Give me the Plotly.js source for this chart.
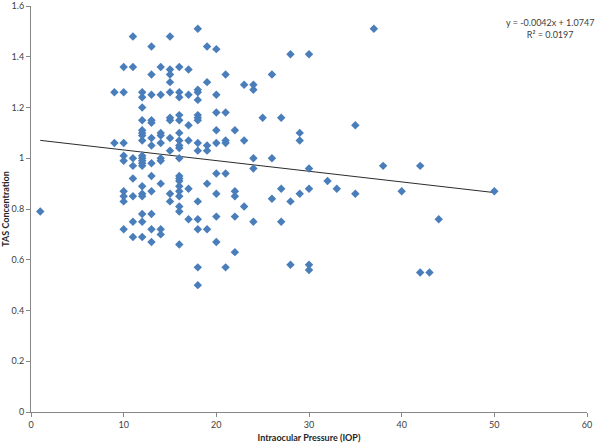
<!DOCTYPE html>
<html>
<head>
<meta charset="utf-8">
<script src="https://cdn.plot.ly/plotly-3.0.1.min.js"></script>
<style>
  html, body { margin: 0; padding: 0; background: #ffffff; }
  #chart { width: 600px; height: 443px; }
</style>
</head>
<body>
<div id="chart"></div>
<script>
// IOP value -> list of TAS concentration readings at that IOP
const iopValues = [1, 9, 10, 11, 12, 13, 14, 15, 16, 17, 18, 19, 20, 21, 22, 23, 24, 25, 26, 27, 28, 29, 30, 32, 33, 35, 37, 38, 40, 42, 43, 44, 50];
const tasByIop = [
  [0.79],
  [1.26, 1.06],
  [1.36, 1.26, 1.06, 1.01, 0.99, 0.87, 0.85, 0.83, 0.72],
  [1.48, 1.36, 1.00, 0.97, 0.92, 0.85, 0.75, 0.69],
  [1.26, 1.24, 1.20, 1.15, 1.11, 1.10, 1.09, 1.07, 1.01, 1.00, 0.99, 0.98, 0.97, 0.89, 0.86, 0.85, 0.78, 0.75, 0.69],
  [1.44, 1.33, 1.25, 1.15, 1.14, 1.08, 1.05, 0.98, 0.93, 0.87, 0.78, 0.72, 0.67],
  [1.36, 1.25, 1.10, 1.09, 1.06, 1.00, 0.99, 0.90, 0.72, 0.70],
  [1.48, 1.35, 1.33, 1.30, 1.26, 1.16, 1.15, 1.08, 1.03, 0.86, 0.83],
  [1.36, 1.26, 1.24, 1.17, 1.15, 1.10, 1.07, 1.05, 1.04, 1.00, 0.93, 0.92, 0.91, 0.89, 0.87, 0.85, 0.81, 0.79, 0.66],
  [1.35, 1.25, 1.13, 1.07, 0.88, 0.76],
  [1.51, 1.27, 1.26, 1.23, 1.17, 1.16, 1.15, 1.06, 1.03, 0.83, 0.76, 0.72, 0.57, 0.50],
  [1.44, 1.30, 1.05, 1.03, 0.90, 0.72],
  [1.43, 1.25, 1.18, 1.11, 1.06, 0.94, 0.86, 0.77, 0.67],
  [1.33, 1.18, 1.07, 1.06, 0.94, 0.57],
  [1.11, 0.87, 0.85, 0.77, 0.63],
  [1.29, 1.07, 0.81],
  [1.29, 1.27, 1.00, 0.96, 0.75],
  [1.16],
  [1.33, 1.00, 0.84],
  [1.16, 0.88, 0.75],
  [1.41, 0.83, 0.58],
  [1.10, 1.07, 0.86],
  [1.41, 0.96, 0.88, 0.58, 0.56],
  [0.91],
  [0.88],
  [1.13, 0.86],
  [1.51],
  [0.97],
  [0.87],
  [0.97, 0.55],
  [0.55],
  [0.76],
  [0.87]
];
const trendSlope = -0.0042;
const trendIntercept = 1.0747;
const rSquared = 0.0197;
const xTickValues = [0, 10, 20, 30, 40, 50, 60];
const yTickValues = [0, 0.2, 0.4, 0.6, 0.8, 1, 1.2, 1.4, 1.6];
const yTickLabels = ['0', '0.2', '0.4', '0.6', '0.8', '1', '1.2', '1.4', '1.6'];

const xs = [], ys = [];
iopValues.forEach((iop, i) => {
  tasByIop[i].forEach(v => { xs.push(iop); ys.push(v); });
});
const xMin = Math.min(...xs), xMax = Math.max(...xs);
const lineX = [xMin, xMax];
const lineY = lineX.map(x => trendSlope * x + trendIntercept);

const font = 'Lato, "Open Sans", "Liberation Sans", sans-serif';
const axisColor = '#868686';

const traces = [
  {
    type: 'scatter', mode: 'lines', x: lineX, y: lineY,
    line: { color: '#2b2b2b', width: 1 }, hoverinfo: 'skip', showlegend: false
  },
  {
    type: 'scatter', mode: 'markers', x: xs, y: ys,
    marker: { symbol: 'diamond', size: 6.5, color: '#4a7ebb', line: { width: 0 } },
    showlegend: false
  }
];

const layout = {
  width: 600, height: 443,
  margin: { l: 31, r: 12.5, t: 6, b: 31 },
  paper_bgcolor: '#ffffff', plot_bgcolor: '#ffffff',
  font: { family: font, size: 10, color: '#404040' },
  showlegend: false,
  xaxis: {
    range: [0, 60], tickvals: xTickValues, ticktext: xTickValues.map(String),
    showgrid: false, zeroline: false, showline: true, linecolor: axisColor, linewidth: 1,
    ticks: 'outside', ticklen: 4, tickcolor: axisColor, ticklabeloverflow: 'allow',
    tickfont: { size: 9, color: '#404040' },
    title: { text: '<b>Intraocular Pressure (IOP)</b>', font: { size: 9, color: '#262626' }, standoff: 6 }
  },
  yaxis: {
    range: [0, 1.6], tickvals: yTickValues, ticktext: yTickLabels,
    showgrid: false, zeroline: false, showline: true, linecolor: axisColor, linewidth: 1,
    ticks: 'outside', ticklen: 4, tickcolor: axisColor, ticklabeloverflow: 'allow',
    tickfont: { size: 9, color: '#404040' },
    title: { text: '<b>TAS Concentration</b>', font: { size: 9, color: '#262626' }, standoff: 4 }
  },
  annotations: [
    {
      xref: 'paper', yref: 'paper', x: 1.0165, y: 0.945,
      xanchor: 'right', yanchor: 'middle', showarrow: false, align: 'center',
      text: 'y = ' + trendSlope.toFixed(4) + 'x + ' + trendIntercept.toFixed(4) + '<br>R² = ' + rSquared.toFixed(4),
      font: { size: 9, color: '#404040' }
    }
  ]
};

Plotly.newPlot('chart', traces, layout, { displayModeBar: false, staticPlot: true });
</script>
</body>
</html>
